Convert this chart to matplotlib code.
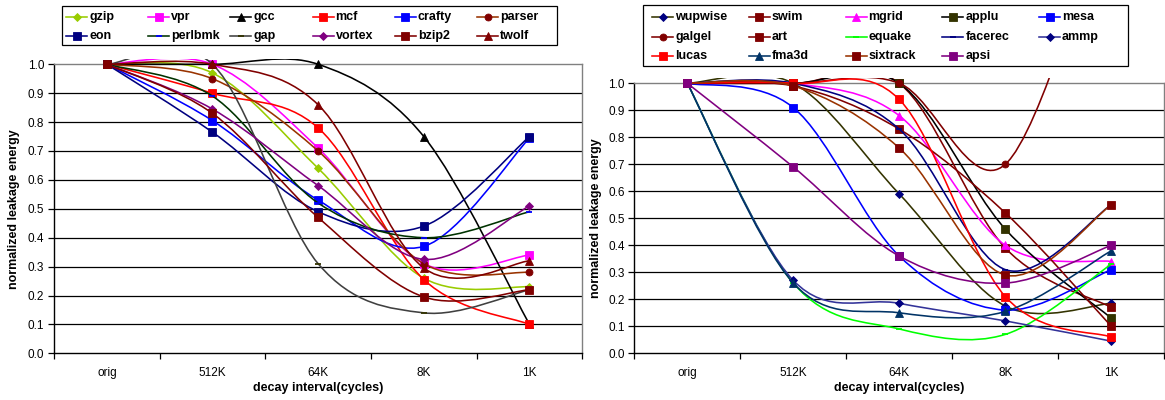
import numpy as np
import matplotlib
matplotlib.use("Agg")
import matplotlib.pyplot as plt
from matplotlib.path import Path
from matplotlib.patches import PathPatch, Rectangle
from matplotlib.lines import Line2D
from matplotlib.transforms import Bbox, TransformedBbox

plt.rcParams['font.family'] = ['Liberation Sans', 'DejaVu Sans']

W, H = 1165, 400

intervals = ["orig", "512K", "64K", "8K", "1K"]
y_ticks = [0.0, 0.1, 0.2, 0.3, 0.4, 0.5, 0.6, 0.7, 0.8, 0.9, 1.0]

# SPECint2000 benchmarks
int_names = ["gzip", "vpr", "gcc", "mcf", "crafty", "parser",
             "eon", "perlbmk", "gap", "vortex", "bzip2", "twolf"]
gzip = [1.0, 0.97, 0.64, 0.26, 0.23]
vpr = [1.0, 1.0, 0.71, 0.31, 0.34]
gcc = [1.0, 1.0, 1.0, 0.75, 0.10]
mcf = [1.0, 0.90, 0.78, 0.255, 0.10]
crafty = [1.0, 0.805, 0.53, 0.37, 0.745]
parser = [1.0, 0.95, 0.70, 0.31, 0.28]
eon = [1.0, 0.765, 0.49, 0.44, 0.75]
perlbmk = [1.0, 0.89, 0.52, 0.40, 0.49]
gap = [1.0, 1.0, 0.31, 0.14, 0.22]
vortex = [1.0, 0.845, 0.58, 0.325, 0.51]
bzip2 = [1.0, 0.83, 0.47, 0.195, 0.22]
twolf = [1.0, 1.0, 0.86, 0.295, 0.32]
int_values = [gzip, vpr, gcc, mcf, crafty, parser,
              eon, perlbmk, gap, vortex, bzip2, twolf]

# SPECfp2000 benchmarks
fp_names = ["wupwise", "swim", "mgrid", "applu", "mesa",
            "galgel", "art", "equake", "facerec", "ammp",
            "lucas", "fma3d", "sixtrack", "apsi"]
wupwise = [1.0, 1.0, 0.59, 0.175, 0.185]
swim = [1.0, 1.0, 1.0, 0.39, 0.17]
mgrid = [1.0, 1.0, 0.88, 0.40, 0.34]
applu = [1.0, 1.0, 1.0, 0.46, 0.13]
mesa = [1.0, 0.91, 0.36, 0.16, 0.31]
galgel = [1.0, 1.0, 1.0, 0.70, 1.70]
art = [1.0, 0.99, 0.83, 0.52, 0.10]
equake = [1.0, 0.26, 0.09, 0.07, 0.33]
facerec = [1.0, 1.0, 0.83, 0.31, 0.55]
ammp = [1.0, 0.27, 0.185, 0.12, 0.045]
lucas = [1.0, 1.0, 0.94, 0.21, 0.06]
fma3d = [1.0, 0.26, 0.15, 0.155, 0.38]
sixtrack = [1.0, 0.99, 0.76, 0.29, 0.55]
apsi = [1.0, 0.69, 0.36, 0.26, 0.40]
fp_values = [wupwise, swim, mgrid, applu, mesa, galgel, art, equake,
             facerec, ammp, lucas, fma3d, sixtrack, apsi]

# (line colour, marker, marker colour, marker size)
int_styles = [
    ("#99CC00", "D", "#99CC00", 4.5),
    ("#FF00FF", "s", "#FF00FF", 5.5),
    ("#000000", "^", "#000000", 5.5),
    ("#FF0000", "s", "#FF0000", 5.5),
    ("#0000FF", "s", "#0000FF", 5.5),
    ("#993300", "o", "#800000", 5.0),
    ("#000080", "s", "#000080", 5.5),
    ("#003300", "_", "#0000FF", 5.0),
    ("#404040", "_", "#333300", 5.0),
    ("#800080", "D", "#800080", 4.5),
    ("#800000", "s", "#800000", 5.5),
    ("#800000", "^", "#800000", 5.5),
]
fp_styles = [
    ("#333300", "D", "#000080", 4.5),
    ("#800000", "s", "#800000", 5.5),
    ("#FF00FF", "^", "#FF00FF", 5.5),
    ("#000000", "s", "#333300", 5.5),
    ("#0000FF", "s", "#0000FF", 5.5),
    ("#800000", "o", "#800000", 5.0),
    ("#800000", "s", "#800000", 5.5),
    ("#00FF00", "_", "#00FF00", 5.0),
    ("#000080", "_", "#000080", 5.0),
    ("#333399", "D", "#000080", 4.5),
    ("#FF0000", "s", "#FF0000", 5.5),
    ("#003366", "^", "#003366", 5.5),
    ("#993300", "s", "#800000", 5.5),
    ("#800080", "s", "#800080", 5.5),
]

LW = 1.15


def smooth_path(xs, ys):
    """Cubic Bezier path through the points (Catmull-Rom style smoothing)."""
    pts = np.column_stack([xs, ys]).astype(float)
    n = len(pts)
    verts = [pts[0]]
    codes = [Path.MOVETO]
    for i in range(n - 1):
        p0 = pts[i - 1] if i > 0 else pts[i]
        p1 = pts[i]
        p2 = pts[i + 1]
        p3 = pts[i + 2] if i + 2 < n else pts[i + 1]
        verts += [p1 + (p2 - p0) / 6.0, p2 - (p3 - p1) / 6.0, p2]
        codes += [Path.CURVE4] * 3
    return Path(verts, codes)


def px_box(x0, y0, x1, y1):
    return [x0 / W, 1 - y1 / H, (x1 - x0) / W, (y1 - y0) / H]


fig = plt.figure(figsize=(W / 100, H / 100), dpi=100)


def draw_panel(rect, names, values, styles, ylab_x):
    ax = fig.add_axes(rect)
    ax.set_xlim(-0.5, len(intervals) - 0.5)
    ax.set_ylim(0.0, 1.0)
    hpx = rect[3] * H
    clip = TransformedBbox(Bbox([[0, -0.01], [1, 1 + 5.0 / hpx]]), ax.transAxes)
    x = np.arange(len(intervals))
    for i, (vals, st) in enumerate(zip(values, styles)):
        lc, mk, mc, ms = st
        z = 3 + i * 0.01
        patch = PathPatch(smooth_path(x, vals), facecolor="none", edgecolor=lc,
                          lw=LW, zorder=z, capstyle="round", joinstyle="round")
        ax.add_patch(patch)
        patch.set_clip_box(clip)
        mline, = ax.plot(x, vals, linestyle="none", marker=mk, color=mc,
                         markersize=ms, markeredgewidth=1.3 if mk == "_" else 0.6,
                         markeredgecolor=mc, zorder=z + 0.005)
        mline.set_clip_box(clip)

    ax.hlines(y_ticks[1:-1], -0.5, len(intervals) - 0.5, color="black",
              lw=0.9, zorder=1)
    for side in ("left", "bottom"):
        ax.spines[side].set_color("black")
        ax.spines[side].set_linewidth(1.0)
    for side in ("right", "top"):
        ax.spines[side].set_color("#808080")
        ax.spines[side].set_linewidth(1.0)

    ax.set_yticks(y_ticks)
    ax.set_yticklabels([f"{v:.1f}" for v in y_ticks])
    ax.tick_params(axis="y", direction="out", length=4, width=0.9,
                   labelsize=8.5, pad=3, colors="black")
    ax.set_xticks(np.arange(len(intervals) + 1) - 0.5)
    ax.set_xticklabels([])
    ax.tick_params(axis="x", which="major", direction="out", length=4, width=0.9)
    ax.set_xticks(x, minor=True)
    ax.set_xticklabels(intervals, minor=True)
    ax.tick_params(axis="x", which="minor", length=0, labelsize=8.5, pad=10)

    ax.set_xlabel("decay interval(cycles)", fontsize=9, fontweight="bold")
    ax.xaxis.label.set_va("center")
    ax.xaxis.set_label_coords(0.5, -(388 - 353.3) / hpx)
    ax.set_ylabel("normalized leakage energy", fontsize=9, fontweight="bold")
    ax.yaxis.label.set_va("center")
    ax.yaxis.set_label_coords(ylab_x, 0.5)
    return ax


def draw_legend(names, styles, box, ncol, col_dx, rows_y, hx0):
    x0, y0, x1, y1 = box
    fig.add_artist(Rectangle((x0 / W, 1 - y1 / H), (x1 - x0) / W, (y1 - y0) / H,
                             transform=fig.transFigure, facecolor="white",
                             edgecolor="black", lw=0.9))
    for i, (nm, st) in enumerate(zip(names, styles)):
        lc, mk, mc, ms = st
        c, r = i % ncol, i // ncol
        hx = hx0 + c * col_dx
        yy = 1 - rows_y[r] / H
        fig.add_artist(Line2D([hx / W, (hx + 21) / W], [yy, yy],
                              transform=fig.transFigure, color=lc, lw=LW))
        fig.add_artist(Line2D([(hx + 10.5) / W], [yy], transform=fig.transFigure,
                              linestyle="none", marker=mk, color=mc,
                              markersize=ms, markeredgecolor=mc,
                              markeredgewidth=1.3 if mk == "_" else 0.6))
        fig.text((hx + 23) / W, yy, nm, fontsize=9, fontweight="bold",
                 va="center", ha="left")


draw_panel(px_box(54, 64.3, 582.3, 353.3), int_names, int_values, int_styles,
           -0.076)
draw_panel(px_box(634.3, 83.3, 1164.3, 353.3), fp_names, fp_values, fp_styles,
           -0.072)

draw_legend(int_names, int_styles, (62, 6, 557, 45), 6, 82.2, [17.3, 35.7], 66)
draw_legend(fp_names, fp_styles, (643, 5, 1128, 66), 5, 96.75,
            [17.3, 37, 56], 652)

fig.savefig("out.png", dpi=100)
